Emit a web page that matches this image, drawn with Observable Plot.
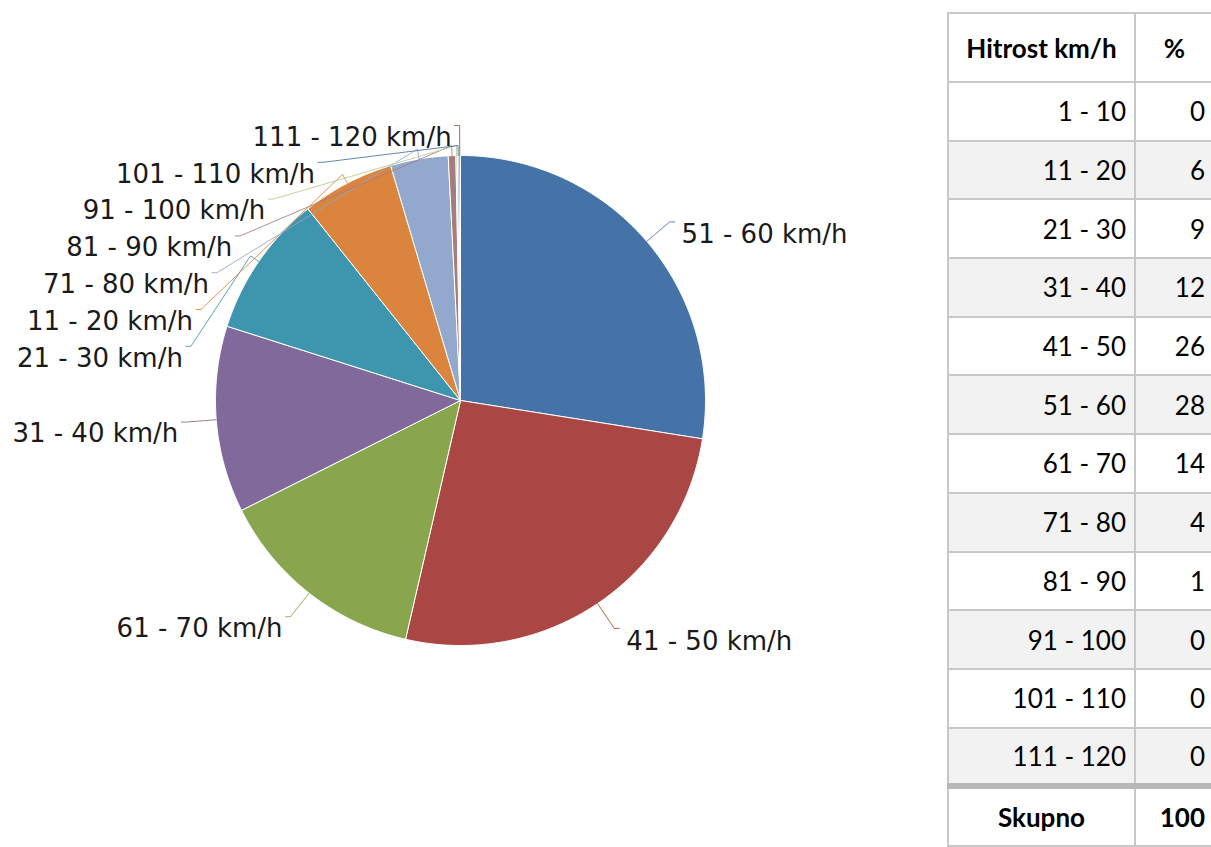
<!DOCTYPE html>
<html><head><meta charset="utf-8">
<script src="https://cdn.jsdelivr.net/npm/d3@7"></script>
<script src="https://cdn.jsdelivr.net/npm/@observablehq/plot@0.6"></script>
<style>
html,body{margin:0;padding:0;background:#fff;overflow:hidden;width:1211px;height:847px}
#chart{position:absolute;left:0;top:0}
#tbl{position:absolute;left:947px;top:12px;border-collapse:collapse;table-layout:fixed;
  font-family:Lato,"Open Sans",sans-serif;font-size:26px;color:#000;width:266px}
#tbl td,#tbl th{border:2px solid #c8c8c8;padding:0;height:58.7px;box-sizing:border-box}
#tbl th{height:69px;font-weight:bold;text-align:center}
#tbl td.r1{text-align:right;padding-right:8px}
#tbl td.r2{text-align:right;padding-right:8px}
#tbl tr.alt td{background:#f2f2f2}
#tbl tr.tot td{border-top:6px solid #b8b8b8;font-weight:bold;height:60px}
#tbl tr.tot td.r1{text-align:center;padding-right:0}
</style></head><body>
<div id="chart"></div>
<table id="tbl"></table>
<script>
// ---- table data ----
const speedRanges = ["1 - 10","11 - 20","21 - 30","31 - 40","41 - 50","51 - 60","61 - 70","71 - 80","81 - 90","91 - 100","101 - 110","111 - 120"];
const tablePercents = [0,6,9,12,26,28,14,4,1,0,0,0];
const headerLabels = ["Hitrost km/h","%"];
const totalLabel = "Skupno";
const totalValue = 100;

// ---- pie data (slice order as drawn, clockwise from top) ----
const pieLabels = ["51 - 60 km/h","41 - 50 km/h","61 - 70 km/h","31 - 40 km/h","21 - 30 km/h","11 - 20 km/h","71 - 80 km/h","81 - 90 km/h","91 - 100 km/h","101 - 110 km/h","111 - 120 km/h"];
const pieShares = [27.5,26.1,14.0,12.3,9.4,6.1,3.8,0.5,0.1,0.1,0.1];
const sliceColors = ["#4572A7","#AA4643","#89A54E","#80699B","#3D96AE","#DB843D","#92A8CD","#A47D7C","#B5CA92","#4572A7","#AA4643"];

// ---- layout ----
const W = 940, H = 847, CX = 460, CY = 400, R = 245;
const LABEL_DIST = 30 / R, BREAK_DIST = 10 / R, SPACING = 36.8 / R;

const slices = d3.pie().sort(null).value(d => d.share)(pieLabels.map((label, i) => ({label, share: pieShares[i]})));

// slice polygons in unit coordinates (y downward)
const poly = [];
for (const s of slices) {
  const lab = s.data.label;
  poly.push({label: lab, x: 0, y: 0});
  const n = Math.max(2, Math.ceil((s.endAngle - s.startAngle) / (Math.PI / 360)));
  for (let k = 0; k <= n; k++) {
    const a = s.startAngle + (s.endAngle - s.startAngle) * k / n;
    poly.push({label: lab, x: Math.sin(a), y: -Math.cos(a)});
  }
  poly.push({label: lab, x: 0, y: 0});
}

// label placement
const labels = slices.map(s => {
  const mid = (s.startAngle + s.endAngle) / 2;
  const rr = 1 + LABEL_DIST;
  return {label: s.data.label, mid, side: mid < Math.PI ? "right" : "left",
          nx: rr * Math.sin(mid), ny: -rr * Math.cos(mid)};
});
for (const side of ["left", "right"]) {
  const group = labels.filter(d => d.side === side).sort((a, b) => a.ny - b.ny);
  let prev = -Infinity;
  for (const d of group) {
    const y = Math.max(d.ny, prev + SPACING);
    d.y = y;
    if (y !== d.ny) {
      const rr = 1 + LABEL_DIST;
      const dx = Math.sqrt(Math.max(0, rr * rr - y * y));
      d.x = side === "left" ? -dx : dx;
    } else d.x = d.nx;
    prev = y;
  }
}
const conn = [];
for (const d of labels) {
  const sgn = d.side === "left" ? -1 : 1;
  conn.push({label: d.label, x: d.x + sgn * 5 / R, y: d.y});
  conn.push({label: d.label, x: d.x, y: d.y});
  conn.push({label: d.label, x: (1 + BREAK_DIST) * Math.sin(d.mid), y: -(1 + BREAK_DIST) * Math.cos(d.mid)});
  conn.push({label: d.label, x: Math.sin(d.mid), y: -Math.cos(d.mid)});
}

const font = "DejaVu Sans";
const chart = Plot.plot({
  width: W, height: H,
  margin: 0,
  x: {domain: [-CX / R, (W - CX) / R], axis: null},
  y: {domain: [-CY / R, (H - CY) / R], reverse: true, axis: null},
  color: {domain: pieLabels, range: sliceColors},
  style: {background: "white"},
  marks: [
    Plot.line(poly, {x: "x", y: "y", z: "label", fill: "label", stroke: "white", strokeWidth: 1, strokeLinejoin: "round"}),
    Plot.line(conn, {x: "x", y: "y", z: "label", stroke: "label", strokeWidth: 1, strokeOpacity: 0.85}),
    Plot.text(labels.filter(d => d.side === "left"), {x: "x", y: "y", text: "label", textAnchor: "end", dx: -8, dy: 12, fontSize: 26, fontFamily: font, fill: "#1a1a1a"}),
    Plot.text(labels.filter(d => d.side === "right"), {x: "x", y: "y", text: "label", textAnchor: "start", dx: 12, dy: 13, fontSize: 26, fontFamily: font, fill: "#1a1a1a"})
  ]
});
document.getElementById("chart").append(chart);

// table
const tbl = d3.select("#tbl");
tbl.append("colgroup").selectAll("col").data([187, 79]).join("col").attr("width", d => d);
tbl.append("tr").selectAll("th").data(headerLabels).join("th").text(d => d);
speedRanges.forEach((r, i) => {
  const tr = tbl.append("tr").attr("class", i % 2 === 1 ? "alt" : null);
  tr.append("td").attr("class", "r1").text(r);
  tr.append("td").attr("class", "r2").text(tablePercents[i]);
});
const tt = tbl.append("tr").attr("class", "tot");
tt.append("td").attr("class", "r1").text(totalLabel);
tt.append("td").attr("class", "r2").text(totalValue);
</script>
</body></html>
